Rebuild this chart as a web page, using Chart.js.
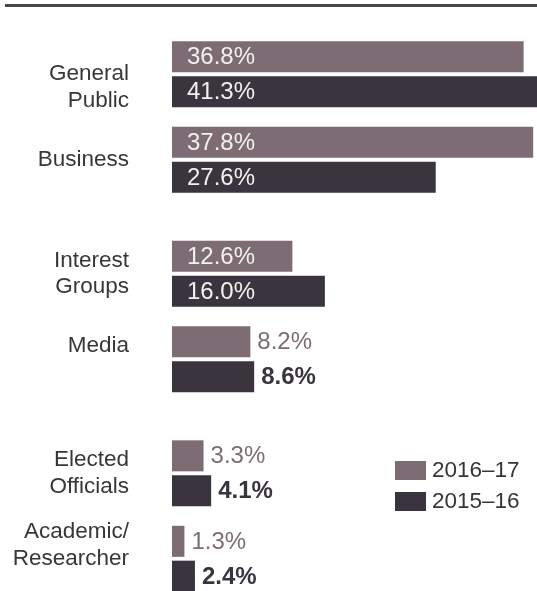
<!DOCTYPE html>
<html>
<head>
<meta charset="utf-8">
<title>Submissions by stakeholder group</title>
<script src="https://cdn.jsdelivr.net/npm/chart.js@4/dist/chart.umd.min.js"></script>
<style>
    body { margin: 0; background: #fff; }
    #wrap { position: relative; width: 537px; height: 591px; overflow: hidden; }
    #rule { position: absolute; left: 5px; right: 0; top: 4px; height: 3px; background: #4b444a; }
    #legend { position: absolute; left: 395px; top: 460px; font: 22.5px "Liberation Sans", Arial, sans-serif; color: #38343a; }
    .legend-item { display: flex; align-items: center; height: 20px; margin-bottom: 11px; }
    .legend-box { width: 31px; height: 19px; margin-right: 6px; }
</style>
</head>
<body>
<div id="wrap">
    <canvas id="myBarChart" width="537" height="591"></canvas>
    <div id="rule"></div>
    <div id="legend"></div>
</div>
<script>
const categories = [["General", "Public"], ["Business"], ["Interest", "Groups"], ["Media"], ["Elected", "Officials"], ["Academic/", "Researcher"]];
const seriesNames = ["2016–17", "2015–16"];
const values2016 = [36.8, 37.8, 12.6, 8.2, 3.3, 1.3];
const values2015 = [41.3, 27.6, 16.0, 8.6, 4.1, 2.4];

// layout: empty rows in front of each group, and which labels sit a half line lower (1) or higher (-1)
const rowsBefore = [0, 2, 3, 2, 3, 2];
const labelShift = [1, 0, 0, -1, 0, -1];

const colors = ["#7d6c74", "#3a343e"];
const fontFamily = '"Liberation Sans", Arial, sans-serif';

// category axis with blank spacer rows between the groups
const labels = [];
const rows2016 = [];
const rows2015 = [];
categories.forEach((lines, i) => {
    for (let k = 0; k < rowsBefore[i]; k++) {
        labels.push("");
        rows2016.push(null);
        rows2015.push(null);
    }
    let tick = lines.slice();
    if (labelShift[i] > 0) tick.unshift("");
    if (labelShift[i] < 0) tick.push("");
    labels.push(tick);
    rows2016.push(values2016[i]);
    rows2015.push(values2015[i]);
});

const valueLabels = {
    id: "valueLabels",
    afterDatasetsDraw(chart) {
        const ctx = chart.ctx;
        chart.data.datasets.forEach((ds, di) => {
            const meta = chart.getDatasetMeta(di);
            meta.data.forEach((bar, i) => {
                const v = ds.data[i];
                if (v === null) return;
                const inside = v >= 10;
                ctx.save();
                ctx.font = (di === 1 && !inside ? "bold " : "") + "24px " + fontFamily;
                ctx.fillStyle = inside ? "#f1f2ee" : ds.backgroundColor;
                ctx.textAlign = "left";
                ctx.textBaseline = "middle";
                const x = inside ? bar.base + 15 : bar.x + 7;
                ctx.fillText(v.toFixed(1) + "%", x, bar.y + 1);
                ctx.restore();
            });
        });
    }
};

const ctx = document.getElementById("myBarChart").getContext("2d");
const myBarChart = new Chart(ctx, {
    type: "bar",
    data: {
        labels: labels,
        datasets: [{
            label: seriesNames[0],
            data: rows2016,
            backgroundColor: colors[0],
            clip: false
        }, {
            label: seriesNames[1],
            data: rows2015,
            backgroundColor: colors[1],
            clip: false
        }]
    },
    options: {
        indexAxis: "y",
        responsive: false,
        animation: false,
        categoryPercentage: 2.445,
        barPercentage: 0.89,
        layout: { padding: { top: 60, bottom: 18, left: 0, right: 0 } },
        plugins: {
            legend: { display: false },
            tooltip: { enabled: false }
        },
        scales: {
            x: {
                type: "linear",
                min: 0,
                max: 38.2,
                display: false
            },
            y: {
                grid: { display: false, drawTicks: false },
                border: { display: false },
                afterFit: (scale) => {
                    // fixed gutter for the labels, and no extra room for the tall first/last labels
                    scale.width = 172;
                    scale.paddingTop = 0;
                    scale.paddingBottom = 0;
                },
                ticks: {
                    autoSkip: false,
                    padding: 43,
                    color: "#3a3539",
                    font: { family: fontFamily, size: 22.5, lineHeight: 1.18 }
                }
            }
        }
    },
    plugins: [valueLabels]
});

// html legend built from the datasets
const legend = document.getElementById("legend");
myBarChart.data.datasets.forEach(ds => {
    const item = document.createElement("div");
    item.className = "legend-item";
    item.innerHTML = `<span class="legend-box" style="background:${ds.backgroundColor}"></span><span>${ds.label}</span>`;
    legend.appendChild(item);
});
</script>
</body>
</html>
